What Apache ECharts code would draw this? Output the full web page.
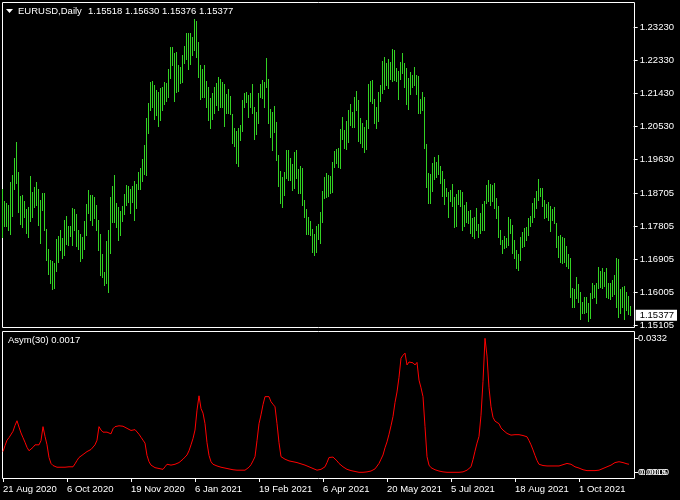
<!DOCTYPE html>
<html>
<head>
<meta charset="utf-8">
<script src="https://cdn.jsdelivr.net/npm/echarts@6/dist/echarts.min.js"></script>
<style>
html,body{margin:0;padding:0;background:#000;}
#c{width:680px;height:500px;}
</style>
</head>
<body>
<div id="c"></div>
<script>
// ---- DATA ----
var highs = [
1.1883,1.1849,1.1844,1.1838,1.1901,1.1920,1.1967,1.2011,1.1929,1.1863,
1.1866,1.1849,1.1828,1.1833,1.1918,1.1874,1.1888,1.1901,1.1883,1.1852,
1.1871,1.1871,1.1773,1.1718,1.1689,1.1686,1.1680,1.1746,1.1754,1.1770,
1.1748,1.1798,1.1809,1.1781,1.1781,1.1830,1.1828,1.1814,1.1770,1.1759,
1.1751,1.1795,1.1841,1.1880,1.1866,1.1866,1.1860,1.1838,1.1798,1.1759,
1.1705,1.1656,1.1740,1.1770,1.1860,1.1890,1.1920,1.1844,1.1833,1.1822,
1.1836,1.1869,1.1893,1.1890,1.1883,1.1890,1.1904,1.1896,1.1929,1.1940,
1.1964,1.2002,1.2076,1.2117,1.2174,1.2177,1.2166,1.2152,1.2147,1.2158,
1.2160,1.2174,1.2171,1.2209,1.2270,1.2270,1.2253,1.2256,1.2220,1.2215,
1.2248,1.2272,1.2308,1.2308,1.2308,1.2297,1.2346,1.2340,1.2283,1.2220,
1.2209,1.2220,1.2177,1.2160,1.2130,1.2144,1.2160,1.2171,1.2188,1.2182,
1.2174,1.2169,1.2141,1.2155,1.2136,1.2087,1.2049,1.2040,1.2049,1.2057,
1.2125,1.2144,1.2147,1.2139,1.2144,1.2169,1.2106,1.2092,1.2144,1.2169,
1.2180,1.2174,1.2240,1.2182,1.2100,1.2092,1.2109,1.2065,1.1975,1.1931,
1.1915,1.1929,1.1989,1.1989,1.1967,1.1950,1.1983,1.1989,1.1937,1.1945,
1.1940,1.1852,1.1828,1.1806,1.1795,1.1773,1.1759,1.1781,1.1787,1.1820,
1.1877,1.1915,1.1926,1.1920,1.1918,1.1956,1.1986,1.1991,1.1994,1.2046,
1.2079,1.2043,1.2068,1.2098,1.2114,1.2092,1.2133,1.2150,1.2125,1.2076,
1.2062,1.2051,1.2070,1.2169,1.2177,1.2180,1.2128,1.2106,1.2147,1.2166,
1.2231,1.2242,1.2226,1.2237,1.2229,1.2264,1.2261,1.2212,1.2204,1.2229,
1.2253,1.2226,1.2212,1.2185,1.2201,1.2193,1.2215,1.2193,1.2190,1.2128,
1.2147,1.2133,1.2005,1.1926,1.1923,1.1953,1.1970,1.1956,1.1975,1.1945,
1.1931,1.1910,1.1885,1.1874,1.1880,1.1896,1.1860,1.1869,1.1880,1.1880,
1.1874,1.1838,1.1847,1.1822,1.1825,1.1803,1.1806,1.1830,1.1787,1.1817,
1.1841,1.1849,1.1893,1.1907,1.1896,1.1893,1.1899,1.1858,1.1836,1.1770,
1.1743,1.1754,1.1749,1.1806,1.1800,1.1784,1.1743,1.1716,1.1705,1.1751,
1.1765,1.1776,1.1779,1.1803,1.1809,1.1844,1.1858,1.1877,1.1910,1.1885,
1.1885,1.1852,1.1841,1.1847,1.1836,1.1828,1.1833,1.1790,1.1754,1.1757,
1.1751,1.1749,1.1727,1.1705,1.1694,1.1612,1.1609,1.1642,1.1623,1.1601,
1.1574,1.1588,1.1588,1.1571,1.1599,1.1626,1.1620,1.1626,1.1669,1.1659,
1.1667,1.1656,1.1667,1.1626,1.1626,1.1634,1.1648,1.1694,1.1691,1.1609,
1.1615,1.1618,1.1601,1.1591,1.1563
];
var lows = [
1.1751,1.1781,1.1781,1.1770,1.1759,1.1809,1.1883,1.1899,1.1820,1.1787,
1.1779,1.1806,1.1762,1.1751,1.1795,1.1806,1.1833,1.1838,1.1784,1.1735,
1.1825,1.1770,1.1689,1.1650,1.1626,1.1610,1.1612,1.1659,1.1683,1.1716,
1.1694,1.1702,1.1732,1.1729,1.1754,1.1729,1.1770,1.1727,1.1718,1.1686,
1.1694,1.1718,1.1757,1.1817,1.1798,1.1784,1.1803,1.1770,1.1716,1.1648,
1.1642,1.1620,1.1626,1.1601,1.1708,1.1792,1.1792,1.1779,1.1743,1.1757,
1.1795,1.1814,1.1838,1.1847,1.1817,1.1847,1.1798,1.1830,1.1883,1.1883,
1.1904,1.1923,1.1920,1.2035,1.2098,1.2106,1.2073,1.2084,1.2054,1.2070,
1.2098,1.2114,1.2122,1.2133,1.2185,1.2220,1.2122,1.2147,1.2150,1.2171,
1.2174,1.2226,1.2237,1.2209,1.2223,1.2248,1.2261,1.2242,1.2188,1.2128,
1.2133,1.2133,1.2106,1.2070,1.2049,1.2073,1.2090,1.2111,1.2098,1.2106,
1.2106,1.2054,1.2090,1.2090,1.2087,1.2008,1.1999,1.1953,1.1945,1.2016,
1.2040,1.2106,1.2119,1.2079,1.2106,1.2090,1.2019,1.2032,1.2062,1.2133,
1.2130,1.2106,1.2160,1.2062,1.2024,1.1989,1.2038,1.1961,1.1890,1.1844,
1.1833,1.1866,1.1912,1.1907,1.1907,1.1880,1.1885,1.1912,1.1871,1.1871,
1.1838,1.1806,1.1759,1.1759,1.1757,1.1710,1.1702,1.1710,1.1746,1.1735,
1.1792,1.1858,1.1860,1.1863,1.1871,1.1874,1.1942,1.1953,1.1942,1.1940,
1.2019,1.1994,1.1991,1.2011,1.2057,1.2051,1.2051,1.2098,1.2013,1.2008,
1.1997,1.1983,1.1991,1.2049,1.2122,1.2117,1.2062,1.2049,1.2068,1.2122,
1.2144,1.2155,1.2166,1.2158,1.2182,1.2177,1.2180,1.2177,1.2128,1.2182,
1.2199,1.2160,1.2114,1.2100,1.2141,1.2160,1.2166,1.2141,1.2090,1.2090,
1.2098,1.1994,1.1888,1.1844,1.1844,1.1877,1.1910,1.1915,1.1923,1.1899,
1.1863,1.1841,1.1863,1.1806,1.1849,1.1836,1.1779,1.1781,1.1841,1.1836,
1.1770,1.1781,1.1792,1.1790,1.1762,1.1754,1.1749,1.1770,1.1751,1.1762,
1.1770,1.1770,1.1844,1.1849,1.1838,1.1849,1.1830,1.1803,1.1751,1.1732,
1.1708,1.1721,1.1724,1.1729,1.1762,1.1708,1.1694,1.1667,1.1661,1.1689,
1.1724,1.1727,1.1743,1.1757,1.1781,1.1792,1.1806,1.1830,1.1852,1.1863,
1.1836,1.1803,1.1806,1.1798,1.1768,1.1798,1.1790,1.1724,1.1697,1.1683,
1.1680,1.1683,1.1672,1.1667,1.1588,1.1560,1.1560,1.1585,1.1574,1.1528,
1.1544,1.1544,1.1547,1.1522,1.1531,1.1585,1.1588,1.1571,1.1612,1.1615,
1.1612,1.1618,1.1588,1.1585,1.1582,1.1590,1.1596,1.1560,1.1533,1.1544,
1.1560,1.1528,1.1552,1.1541,1.1538
];
var asym = [
0.0064,0.0078,0.0091,0.0097,0.0101,0.0112,0.0126,0.0137,0.0122,0.0108,
0.0097,0.0086,0.0074,0.0066,0.0066,0.0074,0.0080,0.0080,0.0080,0.0090,
0.0123,0.0100,0.0080,0.0050,0.0036,0.0031,0.0028,0.0027,0.0027,0.0027,
0.0027,0.0027,0.0027,0.0028,0.0028,0.0028,0.0035,0.0043,0.0050,0.0054,
0.0057,0.0061,0.0064,0.0066,0.0069,0.0072,0.0080,0.0091,0.0123,0.0115,
0.0110,0.0110,0.0110,0.0109,0.0106,0.0118,0.0123,0.0125,0.0125,0.0125,
0.0124,0.0122,0.0119,0.0117,0.0114,0.0113,0.0116,0.0115,0.0105,0.0098,
0.0091,0.0084,0.0055,0.0040,0.0032,0.0028,0.0026,0.0025,0.0024,0.0023,
0.0022,0.0028,0.0034,0.0033,0.0032,0.0032,0.0034,0.0036,0.0038,0.0041,
0.0046,0.0051,0.0056,0.0066,0.0080,0.0095,0.0115,0.0162,0.0196,0.0166,
0.0155,0.0130,0.0085,0.0055,0.0040,0.0034,0.0031,0.0030,0.0028,0.0027,
0.0026,0.0025,0.0024,0.0023,0.0022,0.0021,0.0021,0.0020,0.0020,0.0020,
0.0020,0.0020,0.0023,0.0027,0.0033,0.0042,0.0052,0.0090,0.0130,0.0151,
0.0175,0.0194,0.0198,0.0194,0.0182,0.0176,0.0170,0.0130,0.0085,0.0052,
0.0048,0.0046,0.0044,0.0042,0.0041,0.0040,0.0039,0.0038,0.0037,0.0035,
0.0034,0.0032,0.0030,0.0028,0.0026,0.0024,0.0022,0.0020,0.0020,0.0022,
0.0025,0.0028,0.0038,0.0050,0.0054,0.0051,0.0048,0.0042,0.0036,0.0032,
0.0028,0.0025,0.0022,0.0020,0.0019,0.0018,0.0017,0.0016,0.0015,0.0015,
0.0015,0.0015,0.0016,0.0017,0.0018,0.0019,0.0023,0.0027,0.0036,0.0046,
0.0056,0.0073,0.0087,0.0105,0.0125,0.0147,0.0180,0.0205,0.0240,0.0285,
0.0292,0.0297,0.0269,0.0276,0.0278,0.0274,0.0269,0.0275,0.0233,0.0215,
0.0194,0.0123,0.0052,0.0032,0.0026,0.0023,0.0021,0.0019,0.0018,0.0017,
0.0016,0.0016,0.0015,0.0015,0.0015,0.0015,0.0015,0.0015,0.0015,0.0015,
0.0016,0.0018,0.0020,0.0024,0.0028,0.0045,0.0065,0.0084,0.0100,0.0150,
0.0230,0.0332,0.0290,0.0215,0.0170,0.0145,0.0136,0.0132,0.0130,0.0120,
0.0115,0.0111,0.0107,0.0105,0.0103,0.0101,0.0104,0.0106,0.0104,0.0102,
0.0102,0.0101,0.0099,0.0090,0.0080,0.0068,0.0055,0.0043,0.0034,0.0032,
0.0031,0.0030,0.0030,0.0030,0.0030,0.0030,0.0030,0.0030,0.0030,0.0031,
0.0033,0.0035,0.0036,0.0036,0.0034,0.0031,0.0028,0.0027,0.0025,0.0023,
0.0021,0.0020,0.0019,0.0019,0.0019,0.0019,0.0019,0.0019,0.0020,0.0022,
0.0024,0.0026,0.0028,0.0030,0.0032,0.0035,0.0038,0.0040,0.0040,0.0039,
0.0038,0.0036,0.0035,0.0034,null
];
var dateLabels = ["21 Aug 2020","6 Oct 2020","19 Nov 2020","6 Jan 2021","19 Feb 2021",
                  "6 Apr 2021","20 May 2021","5 Jul 2021","18 Aug 2021","1 Oct 2021"];
var labelEvery = 32;
var priceTicks = [1.15105,1.16005,1.16905,1.17805,1.18705,1.19630,1.20530,1.21430,1.22330,1.23230];
var lastPrice = 1.15377;
var indTicks = [0.0015, 0.0332];
var headerSymbol = "EURUSD,Daily";
var headerOHLC = "1.15518 1.15630 1.15376 1.15377";
var indName = "Asym(30) 0.0017";

// ---- CHART ----
var N = highs.length;
var cats = highs.map(function(_, i){ return String(i); });
var barData = highs.map(function(h, i){ return [i, h, lows[i]]; });

var FONT = '"Liberation Sans", Arial, sans-serif';
var BAR = '#32d223';
var TXT = '#ffffff';
var chart = echarts.init(document.getElementById('c'), null, {renderer:'canvas'});

var option = {
  backgroundColor: '#000000',
  animation: false,
  grid: [
    {left: 2, top: 2, width: 2 * N, height: 326},
    {left: 2, top: 331, width: 2 * N, height: 147}
  ],
  xAxis: [
    {type:'category', gridIndex:0, data:cats, boundaryGap:true, show:false},
    {type:'category', gridIndex:1, data:cats, boundaryGap:true,
     axisLine:{show:false},
     axisTick:{show:true, alignWithLabel:true, length:4, lineStyle:{color:'#fff'},
               interval:function(i){ return i % labelEvery === 0; }},
     axisLabel:{show:true, color:TXT, fontFamily:FONT, fontSize:9.5, align:'left', margin:6,
                interval:function(i){ return i % labelEvery === 0; },
                formatter:function(v, i){ var k = Math.round(i / labelEvery); return dateLabels[k] || ''; }}
    }
  ],
  yAxis: [
    {type:'value', gridIndex:0, position:'right', offset:2, min:1.15031, max:1.23922,
     splitLine:{show:false}, axisLine:{show:false},
     axisTick:{show:true, length:4, inside:false, lineStyle:{color:'#fff'}, customValues:priceTicks},
     axisLabel:{color:TXT, fontFamily:FONT, fontSize:9.5, margin:6, customValues:priceTicks,
                formatter:function(v){ return v.toFixed(5); }}},
    {type:'value', gridIndex:0, position:'right', offset:2, min:1.15031, max:1.23922,
     splitLine:{show:false}, axisLine:{show:false}, axisTick:{show:false},
     axisLabel:{color:'#000', backgroundColor:'#fff', fontFamily:FONT, fontSize:9.5, margin:2,
                padding:[1,3,0,4], customValues:[lastPrice],
                formatter:function(v){ return v.toFixed(5); }}},
    {type:'value', gridIndex:1, position:'right', offset:2, min:0.000151, max:0.034932,
     splitLine:{show:false}, axisLine:{show:false},
     axisTick:{show:true, length:4, lineStyle:{color:'#fff'}, customValues:indTicks},
     axisLabel:{color:TXT, fontFamily:FONT, fontSize:9.5, margin:4, customValues:indTicks,
                formatter:function(v){ return v.toFixed(4); }}},
    {type:'value', gridIndex:1, position:'right', offset:2, min:0.000151, max:0.034932,
     splitLine:{show:false}, axisLine:{show:false}, axisTick:{show:false},
     axisLabel:{color:TXT, fontFamily:FONT, fontSize:9.5, margin:6, customValues:[indTicks[0]],
                formatter:function(){ return (0).toFixed(4); }}}
  ],
  series: [
    {type:'custom', xAxisIndex:0, yAxisIndex:0, data:barData, encode:{x:0, y:[1,2]},
     renderItem:function(params, api){
       var hi = api.coord([api.value(0), api.value(1)]);
       var lo = api.coord([api.value(0), api.value(2)]);
       var x = Math.floor(hi[0]) + 0.5;
       return {type:'line', shape:{x1:x, y1:Math.round(hi[1]), x2:x, y2:Math.round(lo[1]) + 1},
               style:{stroke:BAR, lineWidth:1}};
     }},
    {type:'line', xAxisIndex:1, yAxisIndex:2, data:asym, symbol:'none', smooth:false,
     lineStyle:{color:'#ff0000', width:1}, connectNulls:false}
  ],
  graphic: [
    {type:'rect', shape:{x:2.5, y:2.5, width:632, height:325}, style:{fill:null, stroke:'#fff', lineWidth:1}, silent:true},
    {type:'rect', shape:{x:2.5, y:331.5, width:632, height:147}, style:{fill:null, stroke:'#fff', lineWidth:1}, silent:true},
    {type:'polygon', shape:{points:[[6,9],[13,9],[9.5,13]]}, style:{fill:'#fff'}, silent:true},
    {type:'text', x:18, y:11, style:{text:headerSymbol, fill:TXT, font:'9.5px ' + FONT, textVerticalAlign:'middle'}, silent:true},
    {type:'text', x:88, y:11, style:{text:headerOHLC, fill:TXT, font:'9.5px ' + FONT, textVerticalAlign:'middle'}, silent:true},
    {type:'text', x:8, y:340, style:{text:indName, fill:TXT, font:'9.5px ' + FONT, textVerticalAlign:'middle'}, silent:true}
  ]
};
chart.setOption(option);
</script>
</body>
</html>
